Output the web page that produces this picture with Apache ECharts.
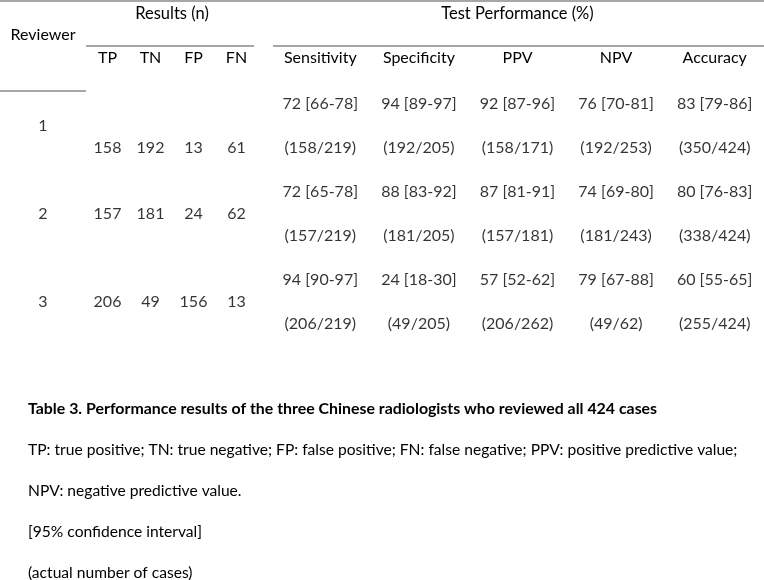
<!DOCTYPE html>
<html>
<head>
<meta charset="utf-8">
<style>
  html, body { margin: 0; padding: 0; background: #fff; }
  #chart { width: 764px; height: 580px; }
</style>
<script src="https://cdn.jsdelivr.net/npm/echarts@6/dist/echarts.min.js"></script>
</head>
<body>
<div id="chart"></div>
<script>
// ---------------- DATA ----------------
const reviewerHeader = ['Reviewer'];
const reviewers = ['1', '2', '3'];
const resultsTitle = 'Results (n)';
const resultCols = ['TP', 'TN', 'FP', 'FN'];
const perfTitle = 'Test Performance (%)';
const perfCols = ['Sensitivity', 'Specificity', 'PPV', 'NPV', 'Accuracy'];

const TP = [158, 157, 206];
const TN = [192, 181, 49];
const FP = [13, 24, 156];
const FN = [61, 62, 13];

const sensEst = [72, 72, 94], sensLo = [66, 65, 90], sensHi = [78, 78, 97];
const sensNum = [158, 157, 206], sensDen = [219, 219, 219];
const specEst = [94, 88, 24], specLo = [89, 83, 18], specHi = [97, 92, 30];
const specNum = [192, 181, 49], specDen = [205, 205, 205];
const ppvEst = [92, 87, 57], ppvLo = [87, 81, 52], ppvHi = [96, 91, 62];
const ppvNum = [158, 157, 206], ppvDen = [171, 181, 262];
const npvEst = [76, 74, 79], npvLo = [70, 69, 67], npvHi = [81, 80, 88];
const npvNum = [192, 181, 49], npvDen = [253, 243, 62];
const accEst = [83, 80, 60], accLo = [79, 76, 55], accHi = [86, 83, 65];
const accNum = [350, 338, 255], accDen = [424, 424, 424];

const captionTitle = 'Table 3. Performance results of the three Chinese radiologists who reviewed all 424 cases';
const captionLines = [
  'TP: true positive; TN: true negative; FP: false positive; FN: false negative; PPV: positive predictive value;',
  'NPV: negative predictive value.',
  '[95% confidence interval]',
  '(actual number of cases)'
];

// ---------------- LAYOUT (row slots on the y scale) ----------------
const reviewerSlot = [1, 5, 9];
const countSlot = [2, 5, 9];
const ciSlot = [0, 4, 8];
const fracSlot = [2, 6, 10];

// ---------------- BUILD ----------------
const FONT = 'Lato, "Open Sans", sans-serif';
const resultsData = [TP, TN, FP, FN];
const perfData = [
  [sensEst, sensLo, sensHi, sensNum, sensDen],
  [specEst, specLo, specHi, specNum, specDen],
  [ppvEst, ppvLo, ppvHi, ppvNum, ppvDen],
  [npvEst, npvLo, npvHi, npvNum, npvDen],
  [accEst, accLo, accHi, accNum, accDen]
];

const reviewerPts = reviewers.map((r, i) => ({ value: [0, reviewerSlot[i]], text: r }));
const resultPts = [];
resultCols.forEach((c, ci) => {
  resultsData[ci].forEach((v, i) => resultPts.push({ value: [ci, countSlot[i]], text: String(v) }));
});
const perfPts = [];
perfCols.forEach((c, ci) => {
  const [est, lo, hi, num, den] = perfData[ci];
  est.forEach((e, i) => {
    perfPts.push({ value: [ci, ciSlot[i]], text: e + ' [' + lo[i] + '-' + hi[i] + ']' });
    perfPts.push({ value: [ci, fracSlot[i]], text: '(' + num[i] + '/' + den[i] + ')' });
  });
});

const GRID_TOP = 104, GRID_H = 220;
const grids = [
  { left: 0, width: 86, top: GRID_TOP, height: GRID_H, outerBoundsMode: 'none' },
  { left: 86, width: 172, top: GRID_TOP, height: GRID_H, outerBoundsMode: 'none' },
  { left: 271, width: 493, top: GRID_TOP, height: GRID_H, outerBoundsMode: 'none' }
];

function topAxis(gridIndex, cats, offset, name) {
  const ax = {
    gridIndex, type: 'category', data: cats, position: 'top', offset,
    axisLine: { show: false }, axisTick: { show: false }, splitLine: { show: false },
    axisLabel: { margin: 0, verticalAlign: 'middle', color: '#000', fontSize: 16, fontFamily: FONT, interval: 0 }
  };
  if (name) {
    ax.name = name;
    ax.nameLocation = 'middle';
    ax.nameGap = 44;
    ax.nameTextStyle = { color: '#000', fontSize: 16.5, fontFamily: FONT, verticalAlign: 'middle' };
  }
  return ax;
}

const yAxes = [0, 1, 2].map(g => ({
  gridIndex: g, type: 'value', min: 0, max: 10, inverse: true, show: false
}));

function textSeries(gi, data) {
  return {
    type: 'scatter', xAxisIndex: gi, yAxisIndex: gi, data,
    symbol: 'circle', symbolSize: 1, silent: true,
    itemStyle: { color: 'rgba(0,0,0,0)' },
    label: {
      show: true, position: 'inside', color: '#000', fontSize: 16, fontFamily: FONT,
      formatter: p => p.data.text
    }
  };
}

const RULE = { stroke: '#8a8a8a', lineWidth: 1.5 };
const option = {
  backgroundColor: '#fff',
  animation: false,
  title: {
    text: captionTitle,
    subtext: captionLines.join('\n'),
    left: 28, top: 399, itemGap: 10, padding: 0,
    textStyle: { color: '#000', fontSize: 15.9, fontWeight: 'bold', fontFamily: FONT, lineHeight: 20 },
    subtextStyle: { color: '#000', fontSize: 15.6, fontFamily: FONT, lineHeight: 41 }
  },
  grid: grids,
  xAxis: [
    topAxis(0, reviewerHeader, 69),
    topAxis(1, resultCols, 46, resultsTitle),
    topAxis(2, perfCols, 46, perfTitle)
  ],
  yAxis: yAxes,
  series: [textSeries(0, reviewerPts), textSeries(1, resultPts), textSeries(2, perfPts)],
  graphic: [
    { type: 'line', shape: { x1: 0, y1: 1, x2: 764, y2: 1 }, style: RULE, silent: true },
    { type: 'line', shape: { x1: 86, y1: 46, x2: 254, y2: 46 }, style: RULE, silent: true },
    { type: 'line', shape: { x1: 273, y1: 46, x2: 764, y2: 46 }, style: RULE, silent: true },
    { type: 'line', shape: { x1: 0, y1: 91, x2: 86, y2: 91 }, style: RULE, silent: true }
  ]
};

const chart = echarts.init(document.getElementById('chart'), null, { renderer: 'canvas' });
chart.setOption(option);
</script>
</body>
</html>
